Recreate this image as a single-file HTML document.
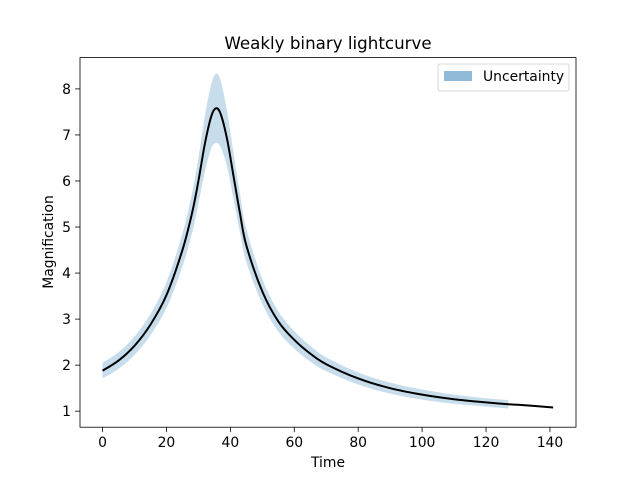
<!DOCTYPE html>
<html><head><meta charset="utf-8"><style>
body{margin:0;background:#fff}
svg{display:block;font-family:"DejaVu Sans","Liberation Sans",sans-serif}
</style></head><body>
<svg id="chart" width="640" height="480" viewBox="0 0 640 480">
<rect width="640" height="480" fill="#fff"/>
<g id="plot"></g>
<rect x="80" y="57.6" width="496" height="369.6" fill="none" stroke="#000" stroke-width="0.8"/>
<text x="328" y="49" text-anchor="middle" font-size="16.7">Weakly binary lightcurve</text>
<text x="328" y="467" text-anchor="middle" font-size="13.9">Time</text>
<text transform="translate(53,242) rotate(-90)" text-anchor="middle" font-size="13.9">Magnification</text>
<g>
<rect x="438" y="64" width="131" height="27" rx="2" fill="#fff" fill-opacity="0.8" stroke="#ccc" stroke-width="0.8"/>
<rect x="444" y="71" width="28" height="10" fill="#1f77b4" fill-opacity="0.5"/>
<text x="483" y="81" font-size="13.9">Uncertainty</text>
</g>
</svg>
<script>
const times=[0,5,10,15,20,25,28,30,32,34,35.5,37,39,41,43,45,50,55,60,65,70,80,90,100,110,120,127,130,141];
const magnification=[1.88,2.1,2.42,2.88,3.52,4.5,5.3,6.0,6.8,7.4,7.58,7.45,6.9,6.1,5.3,4.6,3.6,2.95,2.55,2.25,2.02,1.71,1.5,1.36,1.26,1.19,1.15,1.14,1.08];
const uncertainty=[0.17,0.18,0.2,0.23,0.28,0.36,0.43,0.5,0.6,0.7,0.75,0.72,0.6,0.5,0.42,0.36,0.27,0.22,0.19,0.17,0.15,0.13,0.12,0.11,0.1,0.09,0.09,0,0];
const bandEnd=127;
const xTicks=[0,20,40,60,80,100,120,140];
const yTicks=[1,2,3,4,5,6,7,8];
const X0=80,X1=576,Y0=427.2,Y1=57.6;
const xmin=-7.05,xmax=148.15,ymin=0.652,ymax=8.68;
const sx=v=>X0+(v-xmin)/(xmax-xmin)*(X1-X0);
const sy=v=>Y0-(v-ymin)/(ymax-ymin)*(Y0-Y1);
const NS="http://www.w3.org/2000/svg";
const g=document.getElementById('plot');
function mk(t,a){const e=document.createElementNS(NS,t);for(const k in a)e.setAttribute(k,a[k]);return e;}
function smooth(pts){let d=`M${pts[0][0]},${pts[0][1]}`;for(let i=0;i<pts.length-1;i++){const p0=pts[Math.max(0,i-1)],p1=pts[i],p2=pts[i+1],p3=pts[Math.min(pts.length-1,i+2)];
const c1=[p1[0]+(p2[0]-p0[0])/6,p1[1]+(p2[1]-p0[1])/6],c2=[p2[0]-(p3[0]-p1[0])/6,p2[1]-(p3[1]-p1[1])/6];
d+=`C${c1[0]},${c1[1]} ${c2[0]},${c2[1]} ${p2[0]},${p2[1]}`;}return d;}
const idx=times.map((t,i)=>i).filter(i=>times[i]<=bandEnd);
const hi=idx.map(i=>[sx(times[i]),sy(magnification[i]+uncertainty[i])]);
const lo=idx.map(i=>[sx(times[i]),sy(magnification[i]-uncertainty[i])]).reverse();
const band=mk('path',{d:smooth(hi)+smooth(lo).replace('M','L')+'Z',fill:'#1f77b4','fill-opacity':'0.25'});


g.appendChild(band);
const line=mk('path',{d:smooth(times.map((t,i)=>[sx(t),sy(magnification[i])])),fill:'none',stroke:'#000','stroke-width':'2'});


g.appendChild(line);
xTicks.forEach(v=>{const x=sx(v);
const t=mk('line',{x1:x,x2:x,y1:Y0,y2:Y0+4.9,stroke:'#000','stroke-width':'0.8'});


g.appendChild(t);
const l=mk('text',{x:x,y:Y0+20,'text-anchor':'middle','font-size':'13.9'});l.textContent=v;


g.appendChild(l);});
yTicks.forEach(v=>{const y=sy(v);
const t=mk('line',{x1:X0-4.9,x2:X0,y1:y,y2:y,stroke:'#000','stroke-width':'0.8'});


g.appendChild(t);
const l=mk('text',{x:X0-9,y:y+5,'text-anchor':'end','font-size':'13.9'});l.textContent=v;


g.appendChild(l);});
</script>
</body></html>
